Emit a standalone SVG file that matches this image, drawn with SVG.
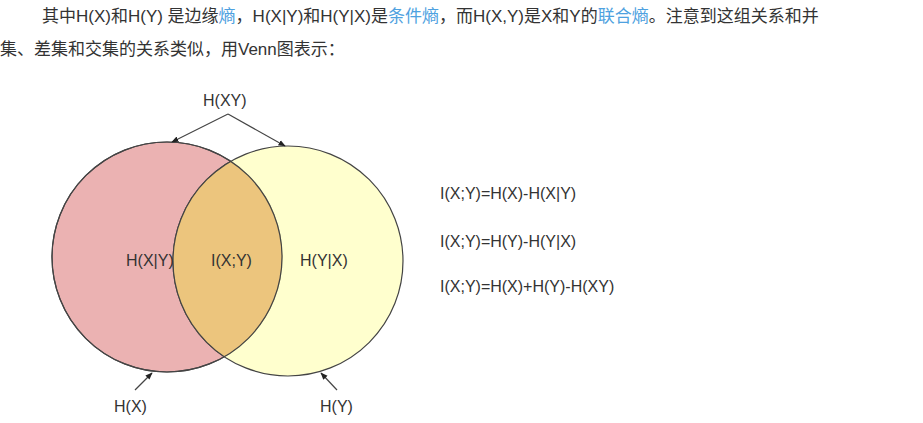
<svg xmlns="http://www.w3.org/2000/svg" width="923" height="423" viewBox="0 0 923 423">
<style>
.t{font-family:"Liberation Sans","Noto Sans CJK SC",sans-serif;font-size:17px;fill:#333}
.l{fill:#4ea1e0}
.d{font-family:"Liberation Sans",sans-serif;font-size:16px;fill:#333}
.c{stroke:#444;stroke-width:1.2}
.a{stroke:#444;stroke-width:1.2;fill:none;marker-end:url(#m)}
</style>
<defs><marker id="m" viewBox="0 0 10 10" refX="9" refY="5" markerWidth="6" markerHeight="6" orient="auto"><path d="M0,1 L10,5 L0,9 z" fill="#222"/></marker></defs>
<rect width="923" height="423" fill="#fff"/>
<text class="t" x="42" y="22">其中H(X)和H(Y) 是边缘<tspan class="l">熵</tspan>，H(X|Y)和H(Y|X)是<tspan class="l">条件熵</tspan>，而H(X,Y)是X和Y的<tspan class="l">联合熵</tspan>。注意到这组关系和并</text>
<text class="t" x="0" y="55">集、差集和交集的关系类似，用Venn图表示：</text>
<g id="circleX"><circle class="c" cx="167" cy="257" r="115" fill="#ebb2b2"/></g>
<g id="circleY"><circle class="c" cx="288" cy="261" r="115" fill="#ffffae" fill-opacity="0.6"/></g>
<clipPath id="cx"><circle cx="167" cy="257" r="115"/></clipPath>
<g id="overlap"><circle cx="288" cy="261" r="115" fill="#ecc57d" clip-path="url(#cx)" stroke="#444" stroke-width="1.2"/><circle cx="167" cy="257" r="115" fill="none" stroke="#444" stroke-width="1.2"/></g>
<g id="labels" class="d">
<text x="126" y="266" class="d">H(X|Y)</text>
<text x="211" y="266" class="d">I(X;Y)</text>
<text x="300" y="266" class="d">H(Y|X)</text>
<text x="203" y="106" class="d">H(XY)</text>
<text x="114" y="412" class="d">H(X)</text>
<text x="320" y="412" class="d">H(Y)</text>
<text x="440" y="199" class="d">I(X;Y)=H(X)-H(X|Y)</text>
<text x="440" y="247" class="d">I(X;Y)=H(Y)-H(Y|X)</text>
<text x="440" y="292" class="d">I(X;Y)=H(X)+H(Y)-H(XY)</text>
</g>
<g id="connectors">
<path class="a" d="M228,114 L172,142"/>
<path class="a" d="M228,114 L285,146"/>
<path class="a" d="M135,390 L152,373"/>
<path class="a" d="M337,390 L321,373"/>
</g>
</svg>
